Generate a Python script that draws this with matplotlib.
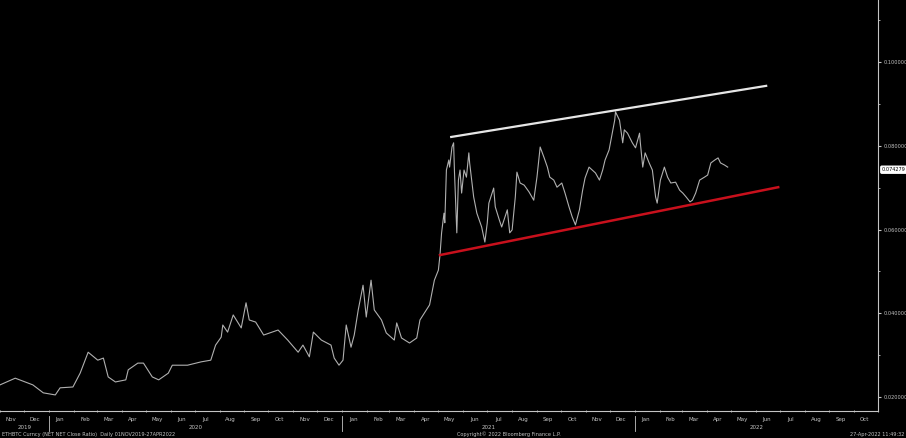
#!/usr/bin/env python3
"""ETHBTC close ratio with a rising channel, Bloomberg style dark chart."""

import matplotlib
matplotlib.use("Agg")
import matplotlib.pyplot as plt
import matplotlib.dates as mdates
import pandas as pd

# daily close ratio, sampled from the chart
dates = [
    "2019-11-01", "2019-11-20", "2019-12-12", "2019-12-25", "2020-01-09", "2020-01-15",
    "2020-01-31", "2020-02-09", "2020-02-19", "2020-03-02", "2020-03-09", "2020-03-15",
    "2020-03-24", "2020-04-06", "2020-04-09", "2020-04-21", "2020-04-28", "2020-05-09",
    "2020-05-17", "2020-05-29", "2020-06-03", "2020-06-22", "2020-07-09", "2020-07-21",
    "2020-07-27", "2020-08-03", "2020-08-05", "2020-08-11", "2020-08-18", "2020-08-28",
    "2020-09-03", "2020-09-07", "2020-09-15", "2020-09-25", "2020-10-13", "2020-10-25",
    "2020-11-07", "2020-11-13", "2020-11-21", "2020-11-26", "2020-12-06", "2020-12-18",
    "2020-12-22", "2020-12-28", "2021-01-02", "2021-01-06", "2021-01-12", "2021-01-16",
    "2021-01-21", "2021-01-27", "2021-01-31", "2021-02-06", "2021-02-10", "2021-02-19",
    "2021-02-25", "2021-03-07", "2021-03-10", "2021-03-16", "2021-03-26", "2021-04-04",
    "2021-04-08", "2021-04-20", "2021-04-26", "2021-05-01", "2021-05-03", "2021-05-05",
    "2021-05-08", "2021-05-09", "2021-05-11", "2021-05-14", "2021-05-15", "2021-05-18",
    "2021-05-20", "2021-05-21", "2021-05-24", "2021-05-26", "2021-05-28", "2021-05-30",
    "2021-06-02", "2021-06-05", "2021-06-08", "2021-06-09", "2021-06-14", "2021-06-18",
    "2021-06-24", "2021-06-28", "2021-07-01", "2021-07-03", "2021-07-09", "2021-07-11",
    "2021-07-16", "2021-07-19", "2021-07-26", "2021-07-29", "2021-08-01", "2021-08-05",
    "2021-08-07", "2021-08-11", "2021-08-16", "2021-08-22", "2021-08-28", "2021-09-01",
    "2021-09-05", "2021-09-10", "2021-09-14", "2021-09-17", "2021-09-22", "2021-09-26",
    "2021-10-02", "2021-10-06", "2021-10-11", "2021-10-15", "2021-10-19", "2021-10-24",
    "2021-10-28", "2021-10-31", "2021-11-05", "2021-11-09", "2021-11-13", "2021-11-18",
    "2021-11-22", "2021-11-25", "2021-11-30", "2021-12-04", "2021-12-07", "2021-12-08",
    "2021-12-13", "2021-12-17", "2021-12-19", "2021-12-23", "2021-12-29", "2022-01-02",
    "2022-01-07", "2022-01-08", "2022-01-11", "2022-01-14", "2022-01-19", "2022-01-23",
    "2022-01-27", "2022-01-29", "2022-02-02", "2022-02-07", "2022-02-11", "2022-02-15",
    "2022-02-21", "2022-02-26", "2022-03-02", "2022-03-06", "2022-03-11", "2022-03-14",
    "2022-03-18", "2022-03-23", "2022-03-29", "2022-04-02", "2022-04-06", "2022-04-11",
    "2022-04-15", "2022-04-18", "2022-04-23", "2022-04-27",
]
ratio = [
    0.0229, 0.0245, 0.0229, 0.0210, 0.0205, 0.0222,
    0.0224, 0.0257, 0.0307, 0.0288, 0.0293, 0.0248,
    0.0236, 0.0241, 0.0265, 0.0281, 0.0281, 0.0248,
    0.0241, 0.0257, 0.0276, 0.0276, 0.0284, 0.0288,
    0.0324, 0.0343, 0.0372, 0.0355, 0.0396, 0.0365,
    0.0425, 0.0384, 0.0379, 0.0348, 0.0360, 0.0336,
    0.0307, 0.0324, 0.0296, 0.0355, 0.0336, 0.0324,
    0.0293, 0.0276, 0.0288, 0.0372, 0.0319, 0.0348,
    0.0408, 0.0467, 0.0391, 0.0479, 0.0408, 0.0384,
    0.0353, 0.0336, 0.0377, 0.0341, 0.0329, 0.0341,
    0.0384, 0.0420, 0.0479, 0.0503, 0.0539, 0.0592,
    0.0639, 0.0616, 0.0742, 0.0766, 0.0749, 0.0797,
    0.0807, 0.0742, 0.0592, 0.0718, 0.0742, 0.0687,
    0.0742, 0.0725, 0.0783, 0.0759, 0.0678, 0.0639,
    0.0606, 0.0570, 0.0616, 0.0663, 0.0699, 0.0654,
    0.0623, 0.0606, 0.0647, 0.0592, 0.0599, 0.0678,
    0.0737, 0.0711, 0.0706, 0.0690, 0.0670, 0.0725,
    0.0797, 0.0771, 0.0749, 0.0725, 0.0718, 0.0701,
    0.0711, 0.0687, 0.0654, 0.0630, 0.0611, 0.0647,
    0.0694, 0.0723, 0.0749, 0.0742, 0.0735, 0.0718,
    0.0742, 0.0766, 0.0790, 0.0830, 0.0861, 0.0881,
    0.0861, 0.0807, 0.0838, 0.0830, 0.0807, 0.0795,
    0.0830, 0.0807, 0.0749, 0.0783, 0.0759, 0.0742,
    0.0678, 0.0663, 0.0718, 0.0749, 0.0725, 0.0711,
    0.0713, 0.0694, 0.0687, 0.0678, 0.0666, 0.0670,
    0.0687, 0.0718, 0.0725, 0.0730, 0.0759, 0.0766,
    0.0771, 0.0759, 0.0754, 0.0749,
]
last_value = 0.074279

# channel drawn on the chart
upper_dates = ["2021-05-17", "2022-06-14"]
upper_vals = [0.0821, 0.0943]
lower_dates = ["2021-05-03", "2022-06-29"]
lower_vals = [0.0539, 0.0701]

y_ticks = [0.02, 0.04, 0.06, 0.08, 0.10]
x_start, x_end = "2019-11-01", "2022-11-01"

FG = "#c4c4c4"

fig = plt.figure(figsize=(9.06, 4.38), dpi=100, facecolor="black")
ax = fig.add_axes([0.0, 0.0616, 0.9695, 0.9384], facecolor="black")

ax.plot(pd.to_datetime(dates), ratio, color="#b0b0b0", linewidth=0.8)
ax.plot(pd.to_datetime(upper_dates), upper_vals, color="#e6e6e6", linewidth=1.6)
ax.plot(pd.to_datetime(lower_dates), lower_vals, color="#c8101c", linewidth=1.8)

ax.set_xlim(pd.Timestamp(x_start), pd.Timestamp(x_end))
ax.set_ylim(0.01666, 0.1148)

for side in ("left", "top"):
    ax.spines[side].set_visible(False)
for side in ("right", "bottom"):
    ax.spines[side].set_color(FG)
    ax.spines[side].set_linewidth(0.8)

# right value axis
ax.yaxis.tick_right()
ax.set_yticks(y_ticks)
ax.set_yticklabels([f"{v:.6f}" for v in y_ticks])
ax.set_yticks([0.03, 0.05, 0.07, 0.09, 0.11], minor=True)
ax.tick_params(axis="y", which="major", colors=FG, labelsize=3.6, length=2.5, width=0.8, pad=1)
ax.tick_params(axis="y", which="minor", colors=FG, length=1.5, width=0.6)

ax.annotate(f"{last_value:.6f}", xy=(1.0, last_value), xycoords=("axes fraction", "data"),
            xytext=(2.5, 0), textcoords="offset points", va="center", ha="left",
            fontsize=3.6, color="black",
            bbox=dict(boxstyle="round,pad=0.2", fc="white", ec="white"))

# month ticks at boundaries, month names mid-month
ax.xaxis.set_major_locator(mdates.MonthLocator())
ax.xaxis.set_major_formatter(plt.NullFormatter())
ax.xaxis.set_minor_locator(mdates.MonthLocator(bymonthday=15))
ax.xaxis.set_minor_formatter(mdates.DateFormatter("%b"))
ax.tick_params(axis="x", which="major", colors=FG, length=2, width=0.6, direction="inout")
ax.tick_params(axis="x", which="minor", colors=FG, labelsize=4.0, length=0, pad=4)

# year labels and separators
years = {"2019": ("2019-11-01", "2020-01-01"), "2020": ("2020-01-01", "2021-01-01"),
         "2021": ("2021-01-01", "2022-01-01"), "2022": ("2022-01-01", "2022-11-01")}
for label, (a, b) in years.items():
    mid = pd.Timestamp(a) + (pd.Timestamp(b) - pd.Timestamp(a)) / 2
    ax.annotate(label, xy=(mid, 0), xycoords=("data", "axes fraction"), xytext=(0, -13),
                textcoords="offset points", ha="center", fontsize=4.0, color=FG,
                annotation_clip=False)
for jan in ["2020-01-01", "2021-01-01", "2022-01-01"]:
    ax.plot([pd.Timestamp(jan)] * 2, [-0.012, -0.048], transform=ax.get_xaxis_transform(),
            color=FG, linewidth=0.6, clip_on=False)

# footer
fig.text(0.002, 0.002, "ETHBTC Curncy (NET NET Close Ratio)  Daily 01NOV2019-27APR2022",
         fontsize=3.6, color=FG, ha="left", va="bottom")
fig.text(0.504, 0.002, "Copyright\u00a9 2022 Bloomberg Finance L.P.",
         fontsize=3.6, color=FG, ha="left", va="bottom")
fig.text(0.998, 0.002, "27-Apr-2022 11:49:32",
         fontsize=3.6, color=FG, ha="right", va="bottom")

fig.savefig("out.png", dpi=100, facecolor="black")
